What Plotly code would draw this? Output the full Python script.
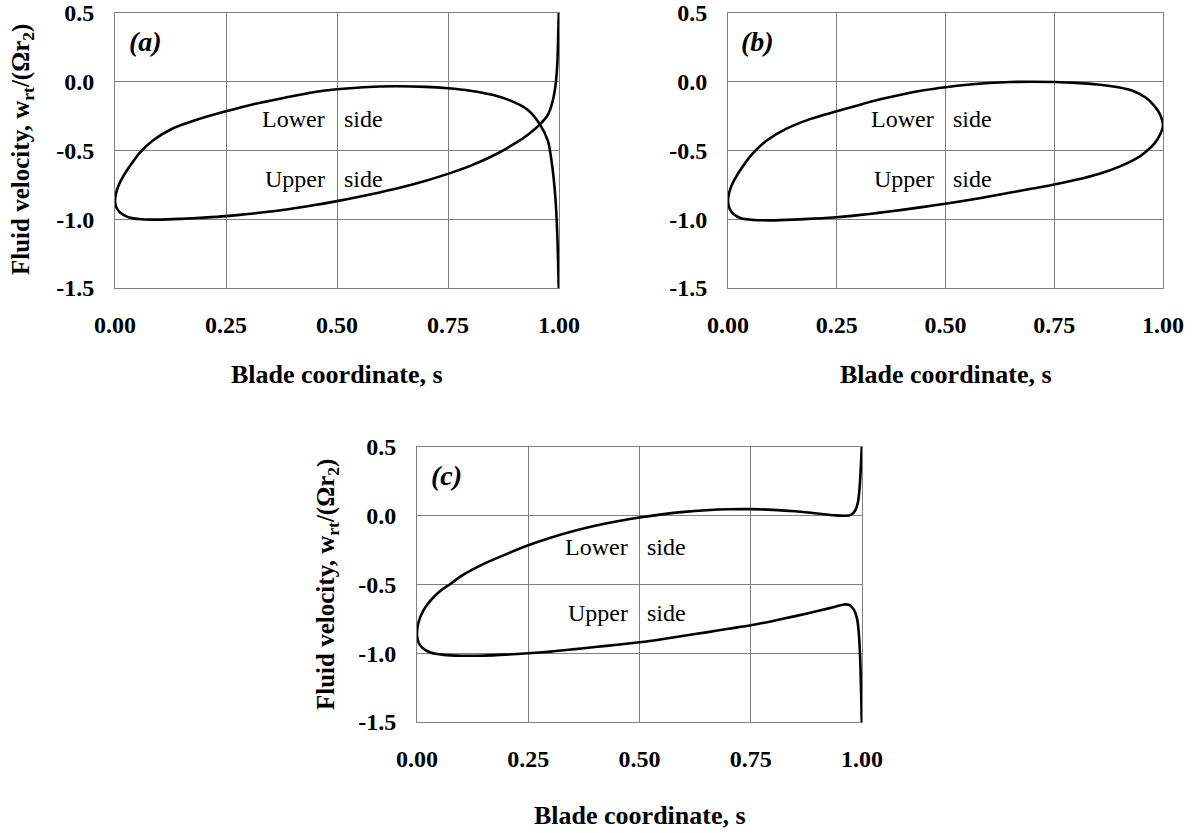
import plotly.graph_objects as go

# ---------------- data ----------------
# Panel (a)
a_lower_s = [0.0, 0.0025, 0.0075, 0.0188, 0.0375, 0.056, 0.086, 0.131, 0.19, 0.25, 0.31, 0.379, 0.44, 0.5, 0.56, 0.63, 0.7, 0.75, 0.8, 0.85, 0.9, 0.93, 0.957, 0.975, 0.985, 0.992, 0.996, 0.9995]
a_lower_w = [-0.87, -0.81, -0.758, -0.686, -0.595, -0.515, -0.425, -0.338, -0.27, -0.215, -0.165, -0.118, -0.08, -0.055, -0.04, -0.033, -0.037, -0.047, -0.065, -0.095, -0.15, -0.205, -0.31, -0.43, -0.62, -0.85, -1.1, -1.5]
a_upper_s = [0.0, 0.004, 0.012, 0.03, 0.06, 0.1, 0.15, 0.2, 0.25, 0.3, 0.35, 0.4, 0.45, 0.5, 0.55, 0.6, 0.65, 0.7, 0.75, 0.8, 0.85, 0.9, 0.93, 0.957, 0.975, 0.985, 0.992, 0.996, 0.9995]
a_upper_w = [-0.87, -0.92, -0.953, -0.985, -1.0, -1.003, -0.997, -0.988, -0.977, -0.962, -0.944, -0.922, -0.897, -0.868, -0.836, -0.802, -0.764, -0.72, -0.67, -0.612, -0.54, -0.45, -0.385, -0.31, -0.24, -0.15, -0.03, 0.12, 0.5]

# Panel (b)
b_lower_s = [0.0, 0.0025, 0.0075, 0.0188, 0.0375, 0.056, 0.086, 0.131, 0.19, 0.25, 0.3, 0.35, 0.4, 0.45, 0.5, 0.55, 0.6, 0.65, 0.7, 0.75, 0.8, 0.85, 0.9, 0.93, 0.96, 0.98, 0.992, 0.998, 1.0]
b_lower_w = [-0.87, -0.81, -0.76, -0.69, -0.6, -0.525, -0.435, -0.347, -0.27, -0.215, -0.17, -0.128, -0.092, -0.062, -0.04, -0.022, -0.009, -0.002, 0.0, -0.002, -0.008, -0.02, -0.042, -0.065, -0.115, -0.175, -0.23, -0.28, -0.32]
b_upper_s = [0.0, 0.004, 0.012, 0.03, 0.06, 0.1, 0.15, 0.2, 0.25, 0.3, 0.35, 0.4, 0.45, 0.5, 0.55, 0.6, 0.65, 0.7, 0.75, 0.8, 0.85, 0.9, 0.94, 0.96, 0.98, 0.993, 1.0]
b_upper_w = [-0.87, -0.925, -0.96, -0.993, -1.005, -1.008, -1.003, -0.995, -0.985, -0.97, -0.952, -0.932, -0.91, -0.887, -0.862, -0.835, -0.806, -0.777, -0.748, -0.713, -0.672, -0.617, -0.556, -0.51, -0.45, -0.385, -0.32]

# Panel (c)
c_lower_s = [0.0, 0.003, 0.01, 0.02, 0.035, 0.055, 0.075, 0.1, 0.15, 0.2, 0.25, 0.3, 0.35, 0.4, 0.45, 0.5, 0.55, 0.6, 0.65, 0.7, 0.75, 0.8, 0.85, 0.9, 0.94, 0.96, 0.975, 0.985, 0.991, 0.995, 0.9995]
c_lower_w = [-0.87, -0.78, -0.716, -0.66, -0.6, -0.54, -0.496, -0.437, -0.35, -0.28, -0.215, -0.16, -0.113, -0.073, -0.04, -0.013, 0.01, 0.028, 0.04, 0.047, 0.048, 0.043, 0.033, 0.016, 0.003, 0.0, 0.006, 0.04, 0.1, 0.22, 0.5]
c_upper_s = [0.0, 0.004, 0.012, 0.03, 0.06, 0.1, 0.15, 0.2, 0.25, 0.3, 0.35, 0.4, 0.45, 0.5, 0.55, 0.6, 0.65, 0.7, 0.75, 0.8, 0.85, 0.9, 0.94, 0.96, 0.972, 0.982, 0.989, 0.993, 0.996, 0.9995]
c_upper_w = [-0.87, -0.925, -0.96, -0.995, -1.012, -1.018, -1.017, -1.01, -1.0, -0.988, -0.972, -0.955, -0.938, -0.92, -0.898, -0.873, -0.848, -0.822, -0.797, -0.765, -0.73, -0.693, -0.662, -0.645, -0.65, -0.685, -0.75, -0.86, -1.05, -1.5]

x_ticks = [0.0, 0.25, 0.5, 0.75, 1.0]
x_ticktext = ["0.00", "0.25", "0.50", "0.75", "1.00"]
y_ticks = [-1.5, -1.0, -0.5, 0.0, 0.5]
y_ticktext = ["-1.5", "-1.0", "-0.5", "0.0", "0.5"]

panel_labels = ["(a)", "(b)", "(c)"]
x_title = "Blade coordinate, s"
y_title = "Fluid velocity, w<sub>rt</sub>/(Ωr<sub>2</sub>)"

# ---------------- figure ----------------
W, H = 1195, 833
FONT = "Liberation Serif"
GRID = "#808080"

fig = go.Figure()

panels = [
    (a_lower_s, a_lower_w, a_upper_s, a_upper_w),
    (b_lower_s, b_lower_w, b_upper_s, b_upper_w),
    (c_lower_s, c_lower_w, c_upper_s, c_upper_w),
]

# plot-area boxes in screen pixels (left, right, top, bottom)
boxes = [(115, 559, 13, 288), (728, 1163, 13, 288), (417, 862, 447, 722)]


def px(x):
    return x / W


def py(y):
    return 1 - y / H


for i, (ls, lw, us, uw) in enumerate(panels):
    sfx = "" if i == 0 else str(i + 1)
    xs = list(reversed(us)) + ls[1:]
    ys = list(reversed(uw)) + lw[1:]
    fig.add_trace(go.Scatter(
        x=xs, y=ys, mode="lines",
        line=dict(color="black", width=2.6, shape="spline", smoothing=0.8),
        xaxis="x" + sfx, yaxis="y" + sfx, showlegend=False, hoverinfo="skip"))

axis_common = dict(
    showgrid=True, gridcolor=GRID, gridwidth=1,
    showline=True, linecolor=GRID, linewidth=1, mirror=True,
    zeroline=False, ticks="", automargin=False, ticklabeloverflow="allow",
    tickfont=dict(family=FONT, size=24, color="black", weight="bold"),
)

layout = dict(
    width=W, height=H,
    margin=dict(l=0, r=0, t=0, b=0),
    paper_bgcolor="white", plot_bgcolor="white",
    showlegend=False,
    font=dict(family=FONT, color="black"),
)

annotations = []
for i, (l, r, t, b) in enumerate(boxes):
    sfx = "" if i == 0 else str(i + 1)
    layout["xaxis" + sfx] = dict(
        axis_common, domain=[px(l), px(r)], range=[0, 1], tickvals=x_ticks, ticktext=x_ticktext,
        anchor="y" + sfx, ticklabelstandoff=15)
    layout["yaxis" + sfx] = dict(
        axis_common, domain=[py(b), py(t)], range=[-1.5, 0.5], tickvals=y_ticks, ticktext=y_ticktext,
        anchor="x" + sfx, ticklabelstandoff=15)

    xr, yr = "x" + sfx, "y" + sfx
    annotations.append(dict(text="<b><i>" + panel_labels[i] + "</i></b>", x=0.026, y=0.29,
                            xref=xr, yref=yr, xanchor="left", yanchor="middle", showarrow=False,
                            font=dict(family=FONT, size=28, color="black")))
    ly = -0.27 if i < 2 else -0.23
    for txt, yy in (("Lower", ly), ("Upper", -0.71)):
        annotations.append(dict(text=txt, x=0.478, y=yy, xref=xr, yref=yr, xanchor="right",
                                yanchor="middle", showarrow=False,
                                font=dict(family=FONT, size=24, color="black")))
        annotations.append(dict(text="side", x=0.512, y=yy, xref=xr, yref=yr, xanchor="left",
                                yanchor="middle", showarrow=False,
                                font=dict(family=FONT, size=24, color="black")))
    # x axis title
    xt_y = b + 86 if i < 2 else b + 93
    annotations.append(dict(text="<b>" + x_title + "</b>", x=px((l + r) / 2), y=py(xt_y),
                            xref="paper", yref="paper", xanchor="center", yanchor="middle",
                            showarrow=False, font=dict(family=FONT, size=26, color="black")))

# y axis titles (panels a and c)
for (xc, yc) in ((22, 150), (327, 585)):
    annotations.append(dict(text="<b>" + y_title + "</b>", x=px(xc), y=py(yc),
                            xref="paper", yref="paper", xanchor="center", yanchor="middle",
                            textangle=-90, showarrow=False,
                            font=dict(family=FONT, size=25, color="black")))

layout["annotations"] = annotations
fig.update_layout(**layout)
# remove the default 8px page margin so the figure fills the window exactly
fig.write_html("out.html", config={"displayModeBar": False},
               post_script="document.body.style.margin='0px';")
